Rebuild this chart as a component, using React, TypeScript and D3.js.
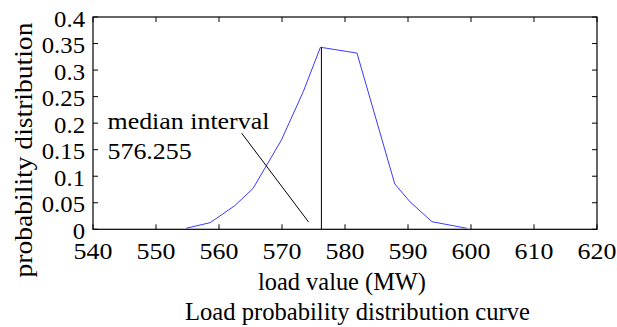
import React from "react";
import * as d3 from "d3";

const loadValues = [554.8, 558.6, 562.5, 565.4, 569.9, 573.4, 576.1, 581.9, 587.9, 590.3, 593.8, 599.3];
const probValues = [0.002, 0.0125, 0.0445, 0.077, 0.168, 0.26, 0.343, 0.332, 0.0855, 0.052, 0.0143, 0.002];
const xTicks = [540, 550, 560, 570, 580, 590, 600, 610, 620];
const yTicks = [0, 0.05, 0.1, 0.15, 0.2, 0.25, 0.3, 0.35, 0.4];
const yTickLabels = ["0", "0.05", "0.1", "0.15", "0.2", "0.25", "0.3", "0.35", "0.4"];
const medianValue = 576.255;
const medianPeak = 0.343;
const pointerFrom = [563.6, 0.181];
const pointerTo = [574.2, 0.014];
const annotationLines = ["median interval", "576.255"];

const W = 617, H = 327;
const L = 93, R = 597, T = 17, B = 229.3;
const FONT = "Liberation Serif, Times New Roman, DejaVu Serif, serif";

function T2({ x, y, sx = 1, size, anchor = "start", rot = 0, children }: any) {
  return (
    <text
      transform={`translate(${x},${y}) rotate(${rot}) scale(${sx},1)`}
      textAnchor={anchor}
      style={{ fontFamily: FONT }}
      fontSize={size}
      fill="#000"
    >
      {children}
    </text>
  );
}

export default function App() {
  const x = d3.scaleLinear().domain([540, 620]).range([L, R]);
  const y = d3.scaleLinear().domain([0, 0.4]).range([B, T]);
  const line = d3.line<number>().x((_, i) => x(loadValues[i])).y((d) => y(d));
  const tk = 5;
  return (
    <svg width={W} height={H} style={{ position: "absolute", left: 0, top: 0, background: "#fff" }}>
      <rect x={0} y={0} width={W} height={H} fill="#fff" />
      {xTicks.map((t) => (
        <g key={"xt" + t}>
          <line x1={x(t)} x2={x(t)} y1={B} y2={B - tk} stroke="#000" strokeWidth={1} />
          <line x1={x(t)} x2={x(t)} y1={T} y2={T + tk} stroke="#000" strokeWidth={1} />
          <T2 x={x(t)} y={258.5} sx={1.08} size={24} anchor="middle">{t}</T2>
        </g>
      ))}
      {yTicks.map((t, i) => (
        <g key={"yt" + t}>
          <line x1={L} x2={L + tk} y1={y(t)} y2={y(t)} stroke="#000" strokeWidth={1} />
          <line x1={R} x2={R - tk} y1={y(t)} y2={y(t)} stroke="#000" strokeWidth={1} />
          <T2 x={85} y={y(t) + 9.5} sx={1.03} size={24} anchor="end">{yTickLabels[i]}</T2>
        </g>
      ))}
      <rect x={L} y={T} width={R - L} height={B - T} fill="none" stroke="#000" strokeWidth={1.2} />
      <path d={line(probValues) || ""} fill="none" stroke="#3a3aff" strokeWidth={1} />
      <line x1={x(medianValue)} x2={x(medianValue)} y1={y(0)} y2={y(medianPeak)} stroke="#000" strokeWidth={1} />
      <line x1={x(pointerFrom[0])} y1={y(pointerFrom[1])} x2={x(pointerTo[0])} y2={y(pointerTo[1])} stroke="#000" strokeWidth={1} />
      <T2 x={107.5} y={129.3} sx={1.08} size={24}>{annotationLines[0]}</T2>
      <T2 x={107.5} y={159.3} sx={1.08} size={24}>{annotationLines[1]}</T2>
      <T2 x={342} y={290} size={24.4} anchor="middle">load value (MW)</T2>
      <T2 x={357.5} y={320} size={24.6} anchor="middle">Load probability distribution curve</T2>
      <T2 x={32} y={150} rot={-90} sx={1.06} size={26} anchor="middle">probability distribution</T2>
    </svg>
  );
}
